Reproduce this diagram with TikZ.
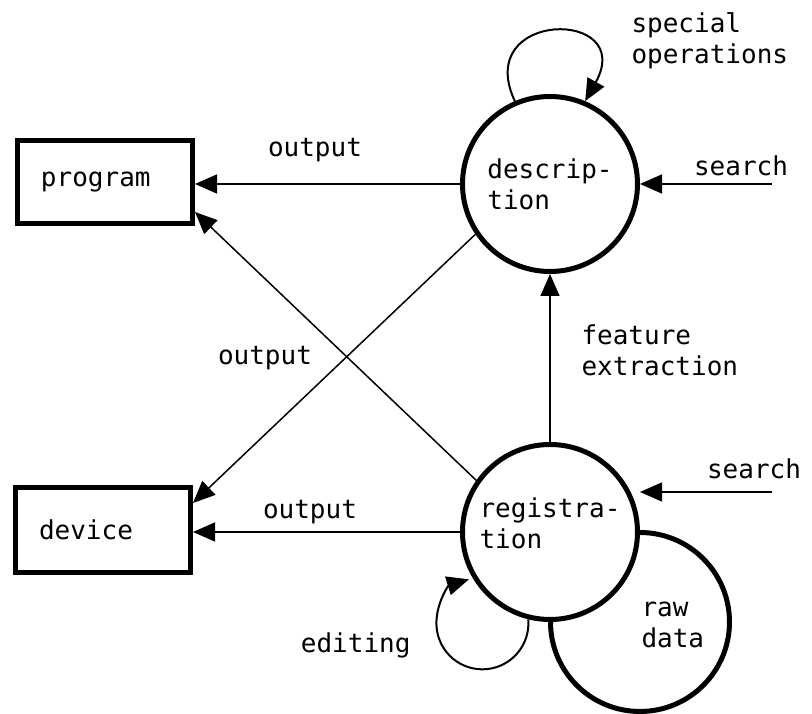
\documentclass[tikz,border=0pt]{standalone}
\usepackage{fontspec}
\newfontfamily\plotfont{DejaVu Sans Mono}
\usetikzlibrary{arrows.meta, positioning, calc}

\begin{document}
\begin{tikzpicture}[x=1pt, y=1pt, >={Triangle[length=22pt, width=19pt]},
        every node/.style={font=\plotfont\fontsize{26}{31}\selectfont},
        process/.style={circle, draw, fill=white, line width=5pt, minimum size=175pt, inner sep=0pt, align=left},
        terminal/.style={rectangle, draw, line width=5pt, minimum height=83pt, text width=128pt, inner xsep=23.5pt, align=left},
        flow/.style={->, line width=1.5pt},
        loopflow/.style={->, line width=2pt}]
        \useasboundingbox (0,0) rectangle (812,714);

        \node[terminal] (program) at (105,532) {program};
        \node[terminal, minimum height=85pt] (device) at (103,184) {device};

        \node[process, minimum size=179pt] (raw) at (640,92) {};
        \node[process] (desc) at (550,530) {descrip-\\tion};
        \node[process, label={[align=left, yshift=9pt]center:registra-\\tion}] (reg) at (550,182) {};
        \node[anchor=west, align=left] (rawtext) at (638,89) {raw\\data};

        \coordinate (s1) at (772,530);
        \coordinate (s2) at (772,222);

        \draw[flow] (desc.west) -- (desc.west -| program.east);
        \draw[flow] (reg.west) -- (reg.west -| device.east);
        \draw[flow] (desc.214) -- ([yshift=27pt]device.east);
        \draw[flow] (reg.145) -- ([yshift=-30pt]program.east);
        \draw[flow] (reg.north) -- (desc.south);
        \draw[flow] (s1) -- (desc.east);
        \draw[flow] (s2) -- (s2 -| reg.east);
        \draw[loopflow] (desc.113) .. controls +(-43,92) and +(52,93) .. (desc.67);
        \draw[loopflow] (reg.256) arc[start angle=5, end angle=-253, radius=46pt];

        \node (out1) at (315,564) {output};
        \node (out2) at (265,356) {output};
        \node (out3) at (310,202) {output};
        \node (search1) at (741,548) {search};
        \node (search2) at (754,245) {search};
        \node[anchor=west, align=left] (special) at (628,673) {special\\operations};
        \node[anchor=west, align=left] (feature) at (578,364) {feature\\extraction};
        \node[anchor=east] (editing) at (414,69) {editing};
\end{tikzpicture}
\end{document}
